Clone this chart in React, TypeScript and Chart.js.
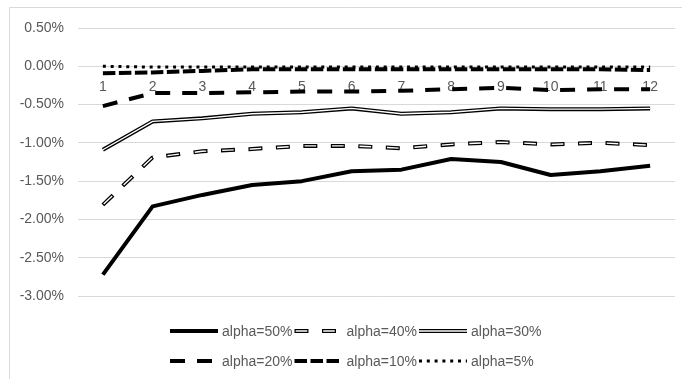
import React, { useEffect, useRef } from 'react';
import { Chart, registerables } from 'chart.js';

Chart.register(...registerables);

// Period index along the horizontal axis
const categories = ['1', '2', '3', '4', '5', '6', '7', '8', '9', '10', '11', '12'];

// Series values, in percent
const alpha50 = [-2.72, -1.83, -1.68, -1.55, -1.5, -1.37, -1.35, -1.21, -1.25, -1.42, -1.37, -1.3];
const alpha40 = [-1.81, -1.19, -1.11, -1.08, -1.04, -1.04, -1.07, -1.02, -0.99, -1.02, -1.0, -1.03];
const alpha30 = [-1.09, -0.72, -0.68, -0.62, -0.6, -0.55, -0.62, -0.6, -0.55, -0.56, -0.56, -0.55];
const alpha20 = [-0.52, -0.35, -0.35, -0.34, -0.33, -0.33, -0.32, -0.3, -0.28, -0.31, -0.3, -0.3];
const alpha10 = [-0.09, -0.08, -0.06, -0.04, -0.04, -0.04, -0.04, -0.04, -0.04, -0.04, -0.04, -0.05];
const alpha5 = [0.0, -0.01, -0.01, -0.01, -0.01, -0.01, -0.01, -0.01, -0.01, -0.01, -0.01, -0.01];

const seriesNames = ['alpha=50%', 'alpha=40%', 'alpha=30%', 'alpha=20%', 'alpha=10%', 'alpha=5%'];
const seriesValues = [alpha50, alpha40, alpha30, alpha20, alpha10, alpha5];

// Value axis range and step, in percent
const yMin = -3;
const yMax = 0.5;
const yStep = 0.5;

// Line styles per series: dash pattern, width, and whether the stroke is a
// hollow double line (black outline with a white core)
type LineStyle = { dash: number[]; width: number; hollow: boolean };
const lineStyles: LineStyle[] = [
  { dash: [], width: 4, hollow: false },
  { dash: [14, 13.5], width: 4, hollow: true },
  { dash: [], width: 4, hollow: true },
  { dash: [15, 12], width: 4, hollow: false },
  { dash: [12.5, 3.5], width: 4, hollow: false },
  { dash: [3, 4.8], width: 3, hollow: false },
];

const FONT = '"Liberation Sans", Arial, sans-serif';
const TEXT = '#595959';
const GRID = '#d9d9d9';
const CORE_WIDTH = 1.4;

function strokeStyled(
  ctx: CanvasRenderingContext2D,
  pts: { x: number; y: number }[],
  style: LineStyle,
) {
  const path = () => {
    ctx.beginPath();
    pts.forEach((p, i) => (i ? ctx.lineTo(p.x, p.y) : ctx.moveTo(p.x, p.y)));
  };
  ctx.save();
  ctx.lineJoin = 'round';
  ctx.lineCap = 'butt';
  ctx.strokeStyle = '#000';
  ctx.lineWidth = style.width;
  ctx.setLineDash(style.dash);
  path();
  ctx.stroke();
  if (style.hollow) {
    // white core, shortened inside each dash so the ends stay outlined
    const inset = 1.2;
    if (style.dash.length) {
      ctx.setLineDash([style.dash[0] - 2 * inset, style.dash[1] + 2 * inset]);
      ctx.lineDashOffset = -inset;
    }
    ctx.strokeStyle = '#fff';
    ctx.lineWidth = CORE_WIDTH;
    path();
    ctx.stroke();
  }
  ctx.restore();
}

// Redraws each series with its own stroke (outline + core for hollow lines)
const styledLines = {
  id: 'styledLines',
  afterDatasetDraw(chart: any, args: any) {
    const style = lineStyles[args.index];
    const pts = args.meta.data.map((p: any) => ({ x: p.x, y: p.y }));
    const ctx = chart.ctx as CanvasRenderingContext2D;
    ctx.save();
    const a = chart.chartArea;
    ctx.beginPath();
    ctx.rect(a.left, a.top - 10, a.right - a.left, a.bottom - a.top + 20);
    ctx.clip();
    strokeStyled(ctx, pts, style);
    ctx.restore();
  },
};

// Outer frame of the chart (left and top edges)
const frame = {
  id: 'frame',
  beforeDraw(chart: any) {
    const ctx = chart.ctx as CanvasRenderingContext2D;
    ctx.save();
    ctx.strokeStyle = GRID;
    ctx.lineWidth = 1;
    ctx.beginPath();
    ctx.moveTo(9.5, chart.height);
    ctx.lineTo(9.5, 7.5);
    ctx.lineTo(chart.width, 7.5);
    ctx.stroke();
    ctx.restore();
  },
};

// Legend laid out as a 3 x 2 grid under the plot
const gridLegend = {
  id: 'gridLegend',
  afterDraw(chart: any, _args: any, opts: any) {
    const ctx = chart.ctx as CanvasRenderingContext2D;
    ctx.save();
    ctx.font = `14px ${FONT}`;
    ctx.fillStyle = TEXT;
    ctx.textBaseline = 'middle';
    ctx.textAlign = 'left';
    chart.data.datasets.forEach((ds: any, i: number) => {
      const col = i % 3;
      const row = Math.floor(i / 3);
      const x = opts.left + col * opts.colWidth;
      const y = opts.top + row * opts.rowHeight;
      strokeStyled(
        ctx,
        [
          { x, y },
          { x: x + opts.sample, y },
        ],
        lineStyles[i],
      );
      ctx.fillText(ds.label, x + opts.sample + opts.gap, y + 1);
    });
    ctx.restore();
  },
};

export default function App() {
  const ref = useRef<HTMLCanvasElement | null>(null);

  useEffect(() => {
    if (!ref.current) return;
    const chart = new Chart(ref.current, {
      type: 'line',
      data: {
        labels: categories,
        datasets: seriesValues.map((vals, i) => ({
          label: seriesNames[i],
          data: vals,
          borderColor: 'rgba(0,0,0,0)',
          borderWidth: 0,
          pointRadius: 0,
          pointHoverRadius: 0,
          tension: 0,
          fill: false,
          order: seriesValues.length - i,
        })),
      },
      options: {
        responsive: false,
        animation: false,
        devicePixelRatio: 1,
        layout: { padding: { left: 0, right: 7, top: 28, bottom: 83 } },
        plugins: {
          legend: { display: false },
          tooltip: { enabled: false },
          gridLegend: { left: 170, top: 331, colWidth: 124.5, rowHeight: 30, sample: 48, gap: 4 },
        } as any,
        scales: {
          x: {
            type: 'category',
            offset: true,
            position: { y: 0 } as any,
            grid: { display: false, drawTicks: false },
            border: { display: false },
            ticks: {
              color: TEXT,
              font: { family: FONT, size: 14 },
              padding: 12,
              maxRotation: 0,
              autoSkip: false,
            },
            afterFit: (s: any) => {
              s.height = 0;
            },
          },
          y: {
            min: yMin,
            max: yMax,
            grid: { color: GRID, lineWidth: 1, drawTicks: false },
            border: { display: false },
            ticks: {
              stepSize: yStep,
              color: TEXT,
              font: { family: FONT, size: 14 },
              padding: 14,
              callback: (v: any) => `${Number(v).toFixed(2)}%`,
            },
            afterFit: (s: any) => {
              s.width = 78;
            },
          },
        },
      },
      plugins: [frame, styledLines, gridLegend],
    });
    return () => chart.destroy();
  }, []);

  return (
    <div style={{ position: 'absolute', left: 0, top: 0, width: 682, height: 379, background: '#fff' }}>
      <canvas ref={ref} width={682} height={379} />
    </div>
  );
}
